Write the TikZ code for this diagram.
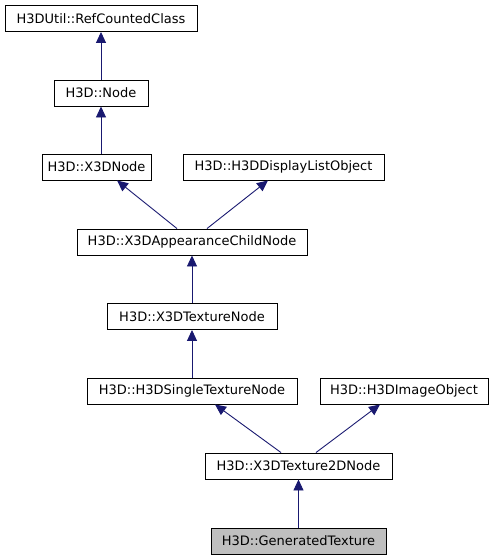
\documentclass[tikz,border=0pt]{standalone}
\usepackage{fontspec}
\setmainfont{DejaVu Sans}
\usepackage{tikz}
\usetikzlibrary{arrows.meta, positioning, shapes}

\definecolor{midnight}{HTML}{191970}
\definecolor{grey75}{HTML}{BFBFBF}

\begin{document}
\begin{tikzpicture}[x=1pt, y=-1pt,
  cls/.style={draw, rectangle, line width=0.9pt, inner sep=0pt, minimum height=26pt,
              font=\fontsize{13}{15}\selectfont},
  inherit/.style={draw=midnight, line width=0.9pt, -{Triangle[length=11pt, width=10pt]}}]

\useasboundingbox (0,0) rectangle (495,560);

\node [cls, minimum width=192pt             ] (rcc)     at (101  , 18.5) {H3DUtil::RefCountedClass};
\node [cls, minimum width=94pt              ] (node)    at (101  , 93  ) {H3D::Node};
\node [cls, minimum width=109pt             ] (x3dnode) at (96.5 , 167 ) {H3D::X3DNode};
\node [cls, minimum width=201pt             ] (dlo)     at (283.5, 167 ) {H3D::H3DDisplayListObject};
\node [cls, minimum width=230pt             ] (acn)     at (192  , 242 ) {H3D::X3DAppearanceChildNode};
\node [cls, minimum width=170pt             ] (tex)     at (192  , 316.5) {H3D::X3DTextureNode};
\node [cls, minimum width=210pt             ] (stn)     at (192  , 391 ) {H3D::H3DSingleTextureNode};
\node [cls, minimum width=168pt             ] (img)     at (404  , 391 ) {H3D::H3DImageObject};
\node [cls, minimum width=187pt             ] (t2d)     at (298.5, 466 ) {H3D::X3DTexture2DNode};
\node [cls, minimum width=175pt, fill=grey75] (gen)     at (298.5, 541 ) {H3D::GeneratedTexture};

\path (node.north)                edge [inherit] (rcc.south);
\path (x3dnode.north -| node)     edge [inherit] (node.south);
\path ([xshift=-15pt]acn.north)   edge [inherit] ([xshift=20.5pt]x3dnode.south);
\path ([xshift=15pt]acn.north)    edge [inherit] ([xshift=-15.5pt]dlo.south);
\path (tex.north)                 edge [inherit] (acn.south);
\path (stn.north)                 edge [inherit] (tex.south);
\path ([xshift=-17.5pt]t2d.north) edge [inherit] ([xshift=23pt]stn.south);
\path ([xshift=17.5pt]t2d.north)  edge [inherit] ([xshift=-24pt]img.south);
\path (gen.north)                 edge [inherit] (t2d.south);

\end{tikzpicture}
\end{document}
